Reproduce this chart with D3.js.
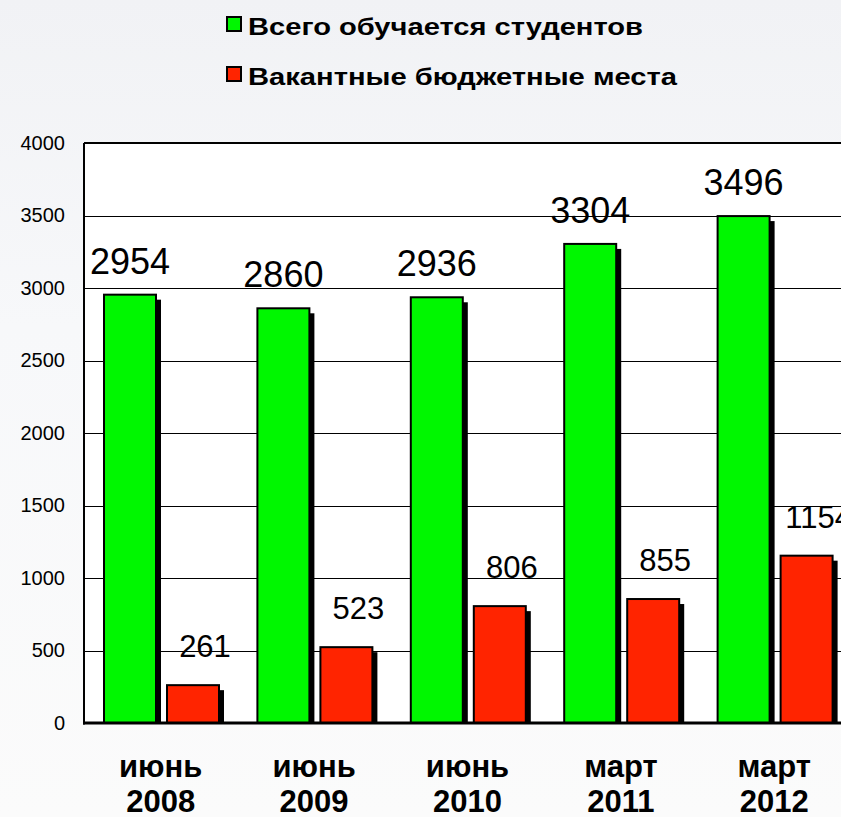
<!DOCTYPE html>
<html>
<head>
<meta charset="utf-8">
<script src="https://cdn.jsdelivr.net/npm/d3@7"></script>
<style>
  html, body { margin: 0; padding: 0; }
  body { width: 841px; height: 817px; overflow: hidden;
         background: linear-gradient(#f1f2f5, #f7f8fa 40%, #fbfbfb); }
  svg { display: block; font-family: Arial, "Liberation Sans", sans-serif; }
</style>
</head>
<body>
<div id="chart"></div>
<script>
// Data
const periods = ["июнь|2008", "июнь|2009", "июнь|2010", "март|2011", "март|2012"];
const students = [2954, 2860, 2936, 3304, 3496];
const vacant = [261, 523, 806, 855, 1154];
const seriesNames = ["Всего обучается студентов", "Вакантные бюджетные места"];
const yTicks = [0, 500, 1000, 1500, 2000, 2500, 3000, 3500, 4000];

const colors = ["#00f700", "#ff2400"];

const W = 841, H = 817;
const plot = {left: 84, top: 143, right: 851, bottom: 723};

const svg = d3.select("#chart").append("svg")
  .attr("width", W).attr("height", H);

// plot background
svg.append("rect")
  .attr("x", plot.left).attr("y", plot.top)
  .attr("width", plot.right - plot.left).attr("height", plot.bottom - plot.top)
  .attr("fill", "#fff");

const x = d3.scaleBand().domain(periods).range([plot.left, plot.right]);
const y = d3.scaleLinear().domain([0, 4000]).range([plot.bottom, plot.top]);

// gridlines
svg.append("g")
  .selectAll("line")
  .data(yTicks.filter(d => d > 0 && d < 4000))
  .enter().append("line")
  .attr("x1", plot.left).attr("x2", plot.right)
  .attr("y1", d => Math.round(y(d)) + 0.5).attr("y2", d => Math.round(y(d)) + 0.5)
  .attr("stroke", "#000").attr("stroke-width", 1);

// y axis labels
const yAxis = svg.append("g")
  .attr("transform", `translate(${plot.left},0)`)
  .call(d3.axisLeft(y).tickValues(yTicks).tickFormat(d3.format("d"))
    .tickSize(0).tickPadding(19));
yAxis.select(".domain").remove();
yAxis.selectAll("text").style("font-size", "20px").attr("fill", "#000")
  .attr("font-family", null);

// bars: green and red side by side inside each band
const barW = 52;
const offsets = [20, 83];
const labelGap = [21, 28];
const rows = periods.map((p, i) => ({p, vals: [students[i], vacant[i]]}));

const groups = svg.append("g").selectAll("g")
  .data(rows).enter().append("g")
  .attr("transform", d => `translate(${x(d.p)},0)`);

[0, 1].forEach(s => {
  // shadow
  groups.append("rect")
    .attr("x", offsets[s] + 5)
    .attr("y", d => y(d.vals[s]) + 5)
    .attr("width", barW)
    .attr("height", d => plot.bottom - y(d.vals[s]) - 5)
    .attr("fill", "#000");
  groups.append("rect")
    .attr("x", offsets[s])
    .attr("y", d => y(d.vals[s]))
    .attr("width", barW)
    .attr("height", d => plot.bottom - y(d.vals[s]))
    .attr("fill", colors[s])
    .attr("stroke", "#000").attr("stroke-width", 2);
  groups.append("text")
    .attr("x", offsets[s] + barW / 2 + (s ? 12 : 0))
    .attr("y", d => y(d.vals[s]) - labelGap[s])
    .attr("text-anchor", "middle")
    .style("font-size", s ? "31px" : "36px")
    .text(d => d.vals[s]);
});

// plot frame: top and left, bottom axis
svg.append("line").attr("x1", plot.left).attr("x2", plot.right)
  .attr("y1", plot.top).attr("y2", plot.top)
  .attr("stroke", "#000").attr("stroke-width", 2);
svg.append("line").attr("x1", plot.left).attr("x2", plot.left)
  .attr("y1", plot.top).attr("y2", plot.bottom + 1.5)
  .attr("stroke", "#000").attr("stroke-width", 2);
svg.append("line").attr("x1", plot.left - 1).attr("x2", plot.right)
  .attr("y1", plot.bottom).attr("y2", plot.bottom)
  .attr("stroke", "#000").attr("stroke-width", 3);

// category labels (two lines, bold)
const xl = svg.append("g").selectAll("text")
  .data(periods).enter().append("text")
  .attr("text-anchor", "middle")
  .style("font-size", "31px").style("font-weight", "bold");
xl.append("tspan").attr("x", d => x(d) + x.bandwidth() / 2).attr("y", 777)
  .text(d => d.split("|")[0]);
xl.append("tspan").attr("x", d => x(d) + x.bandwidth() / 2).attr("y", 812)
  .text(d => d.split("|")[1]);

// legend (text is stretched wide in the original)
const legendWidth = [395, 429];
const legend = svg.append("g").selectAll("g")
  .data(seriesNames).enter().append("g")
  .attr("transform", (d, i) => `translate(227,${17 + i * 50})`);
legend.append("rect")
  .attr("width", 14).attr("height", 14)
  .attr("fill", (d, i) => colors[i])
  .attr("stroke", "#000").attr("stroke-width", 2);
legend.append("text")
  .attr("x", 21).attr("y", 18)
  .attr("textLength", (d, i) => legendWidth[i])
  .attr("lengthAdjust", "spacingAndGlyphs")
  .style("font-size", "24px").style("font-weight", "bold")
  .text(d => d);
</script>
</body>
</html>
